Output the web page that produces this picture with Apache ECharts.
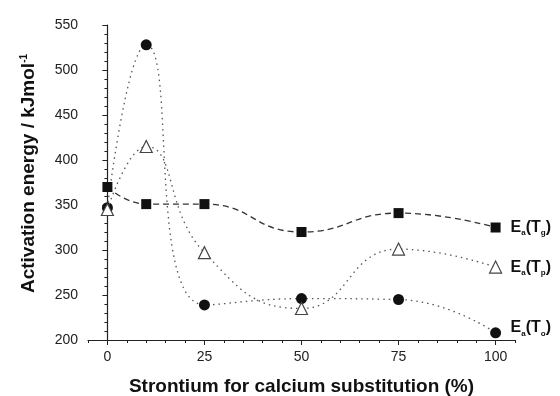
<!DOCTYPE html>
<html><head><meta charset="utf-8">
<script src="https://cdn.jsdelivr.net/npm/echarts@6/dist/echarts.min.js"></script>
<style>html,body{margin:0;padding:0;background:#fff}#c{width:560px;height:396px}</style>
</head><body><div id="c"></div>
<script>
const substitution = [0, 10, 25, 50, 75, 100];
const eaTg = [370, 351, 351, 320, 341, 325];
const eaTp = [345, 415, 297, 235, 301, 281];
const eaTo = [347, 528, 239, 246, 245, 208];
const xTicks = [0, 25, 50, 75, 100];

const font = 'Liberation Sans, Arial, sans-serif';
const pairs = ys => substitution.map((x, i) => [x, ys[i]]);
const subRich = {
  main: {fontFamily: font, fontSize: 16, fontWeight: 'bold', color: '#111', lineHeight: 20},
  sub: {fontFamily: font, fontSize: 8, fontWeight: 'bold', color: '#111', padding: [11, 0, 0, 0], lineHeight: 20}
};
const endLbl = (s, dy) => ({show: true, formatter: '{main|E}{sub|a}{main|(T}{sub|' + s + '}{main|)}', rich: subRich, distance: 15, offset: [0, dy]});

const chart = echarts.init(document.getElementById('c'), null, {renderer: 'canvas'});
chart.setOption({
  animation: false,
  backgroundColor: '#fff',
  grid: {left: 88, right: 45, top: 25, bottom: 56, containLabel: false, outerBoundsMode: 'none'},
  xAxis: [{
    type: 'value', min: -5, max: 105,
    name: 'Strontium for calcium substitution (%)', nameLocation: 'middle', nameGap: 37,
    nameTextStyle: {fontFamily: font, fontSize: 19, fontWeight: 'bold', color: '#111'},
    axisLine: {lineStyle: {color: '#222', width: 1.2}},
    axisTick: {customValues: xTicks, length: 5, lineStyle: {color: '#222'}},
    axisLabel: {customValues: xTicks, fontFamily: font, fontSize: 14, color: '#222', margin: 10},
    splitLine: {show: false}
  }, {
    type: 'value', min: -5, max: 105, interval: 5, position: 'bottom',
    axisLine: {show: false}, axisLabel: {show: false}, splitLine: {show: false},
    axisTick: {show: true, length: 3, lineStyle: {color: '#222'}}
  }],
  yAxis: {
    type: 'value', min: 200, max: 550, interval: 50,
    name: 'Activation energy / kJmol{sup|-1}', nameLocation: 'middle', nameGap: 50,
    nameTextStyle: {fontFamily: font, fontSize: 19, fontWeight: 'bold', color: '#111', padding: [0, 0, 0, 18],
      rich: {sup: {fontFamily: font, fontSize: 10, fontWeight: 'bold', color: '#111', padding: [0, 0, 9, 0]}}},
    axisLine: {show: true, lineStyle: {color: '#222', width: 1.2}},
    axisTick: {show: true, length: 5, lineStyle: {color: '#222'}},
    minorTick: {show: true, splitNumber: 5, length: 3, lineStyle: {color: '#222'}},
    axisLabel: {fontFamily: font, fontSize: 14, color: '#222', margin: 10},
    splitLine: {show: false}
  },
  series: [{
    name: 'Ea(Tg)', type: 'line', data: pairs(eaTg), smooth: 0.5, smoothConstraint: false,
    symbol: 'rect', symbolSize: 10,
    itemStyle: {color: '#111'},
    lineStyle: {color: '#333', width: 1.3, type: [6, 4]},
    endLabel: endLbl('g', 0), z: 3
  }, {
    name: 'Ea(Tp)', type: 'line', data: pairs(eaTp), smooth: 0.5, smoothConstraint: false,
    symbol: 'triangle', symbolSize: 12,
    itemStyle: {color: '#fff', borderColor: '#444', borderWidth: 1.2},
    lineStyle: {color: '#555', width: 1.3, type: [1.5, 4]},
    endLabel: endLbl('p', 0), z: 4
  }, {
    name: 'Ea(To)', type: 'line', data: pairs(eaTo), smooth: 0.5, smoothConstraint: false,
    symbol: 'circle', symbolSize: 11,
    itemStyle: {color: '#111'},
    lineStyle: {color: '#555', width: 1.3, type: [1.5, 4]},
    endLabel: endLbl('o', -5), z: 2
  }]
});
</script></body></html>
